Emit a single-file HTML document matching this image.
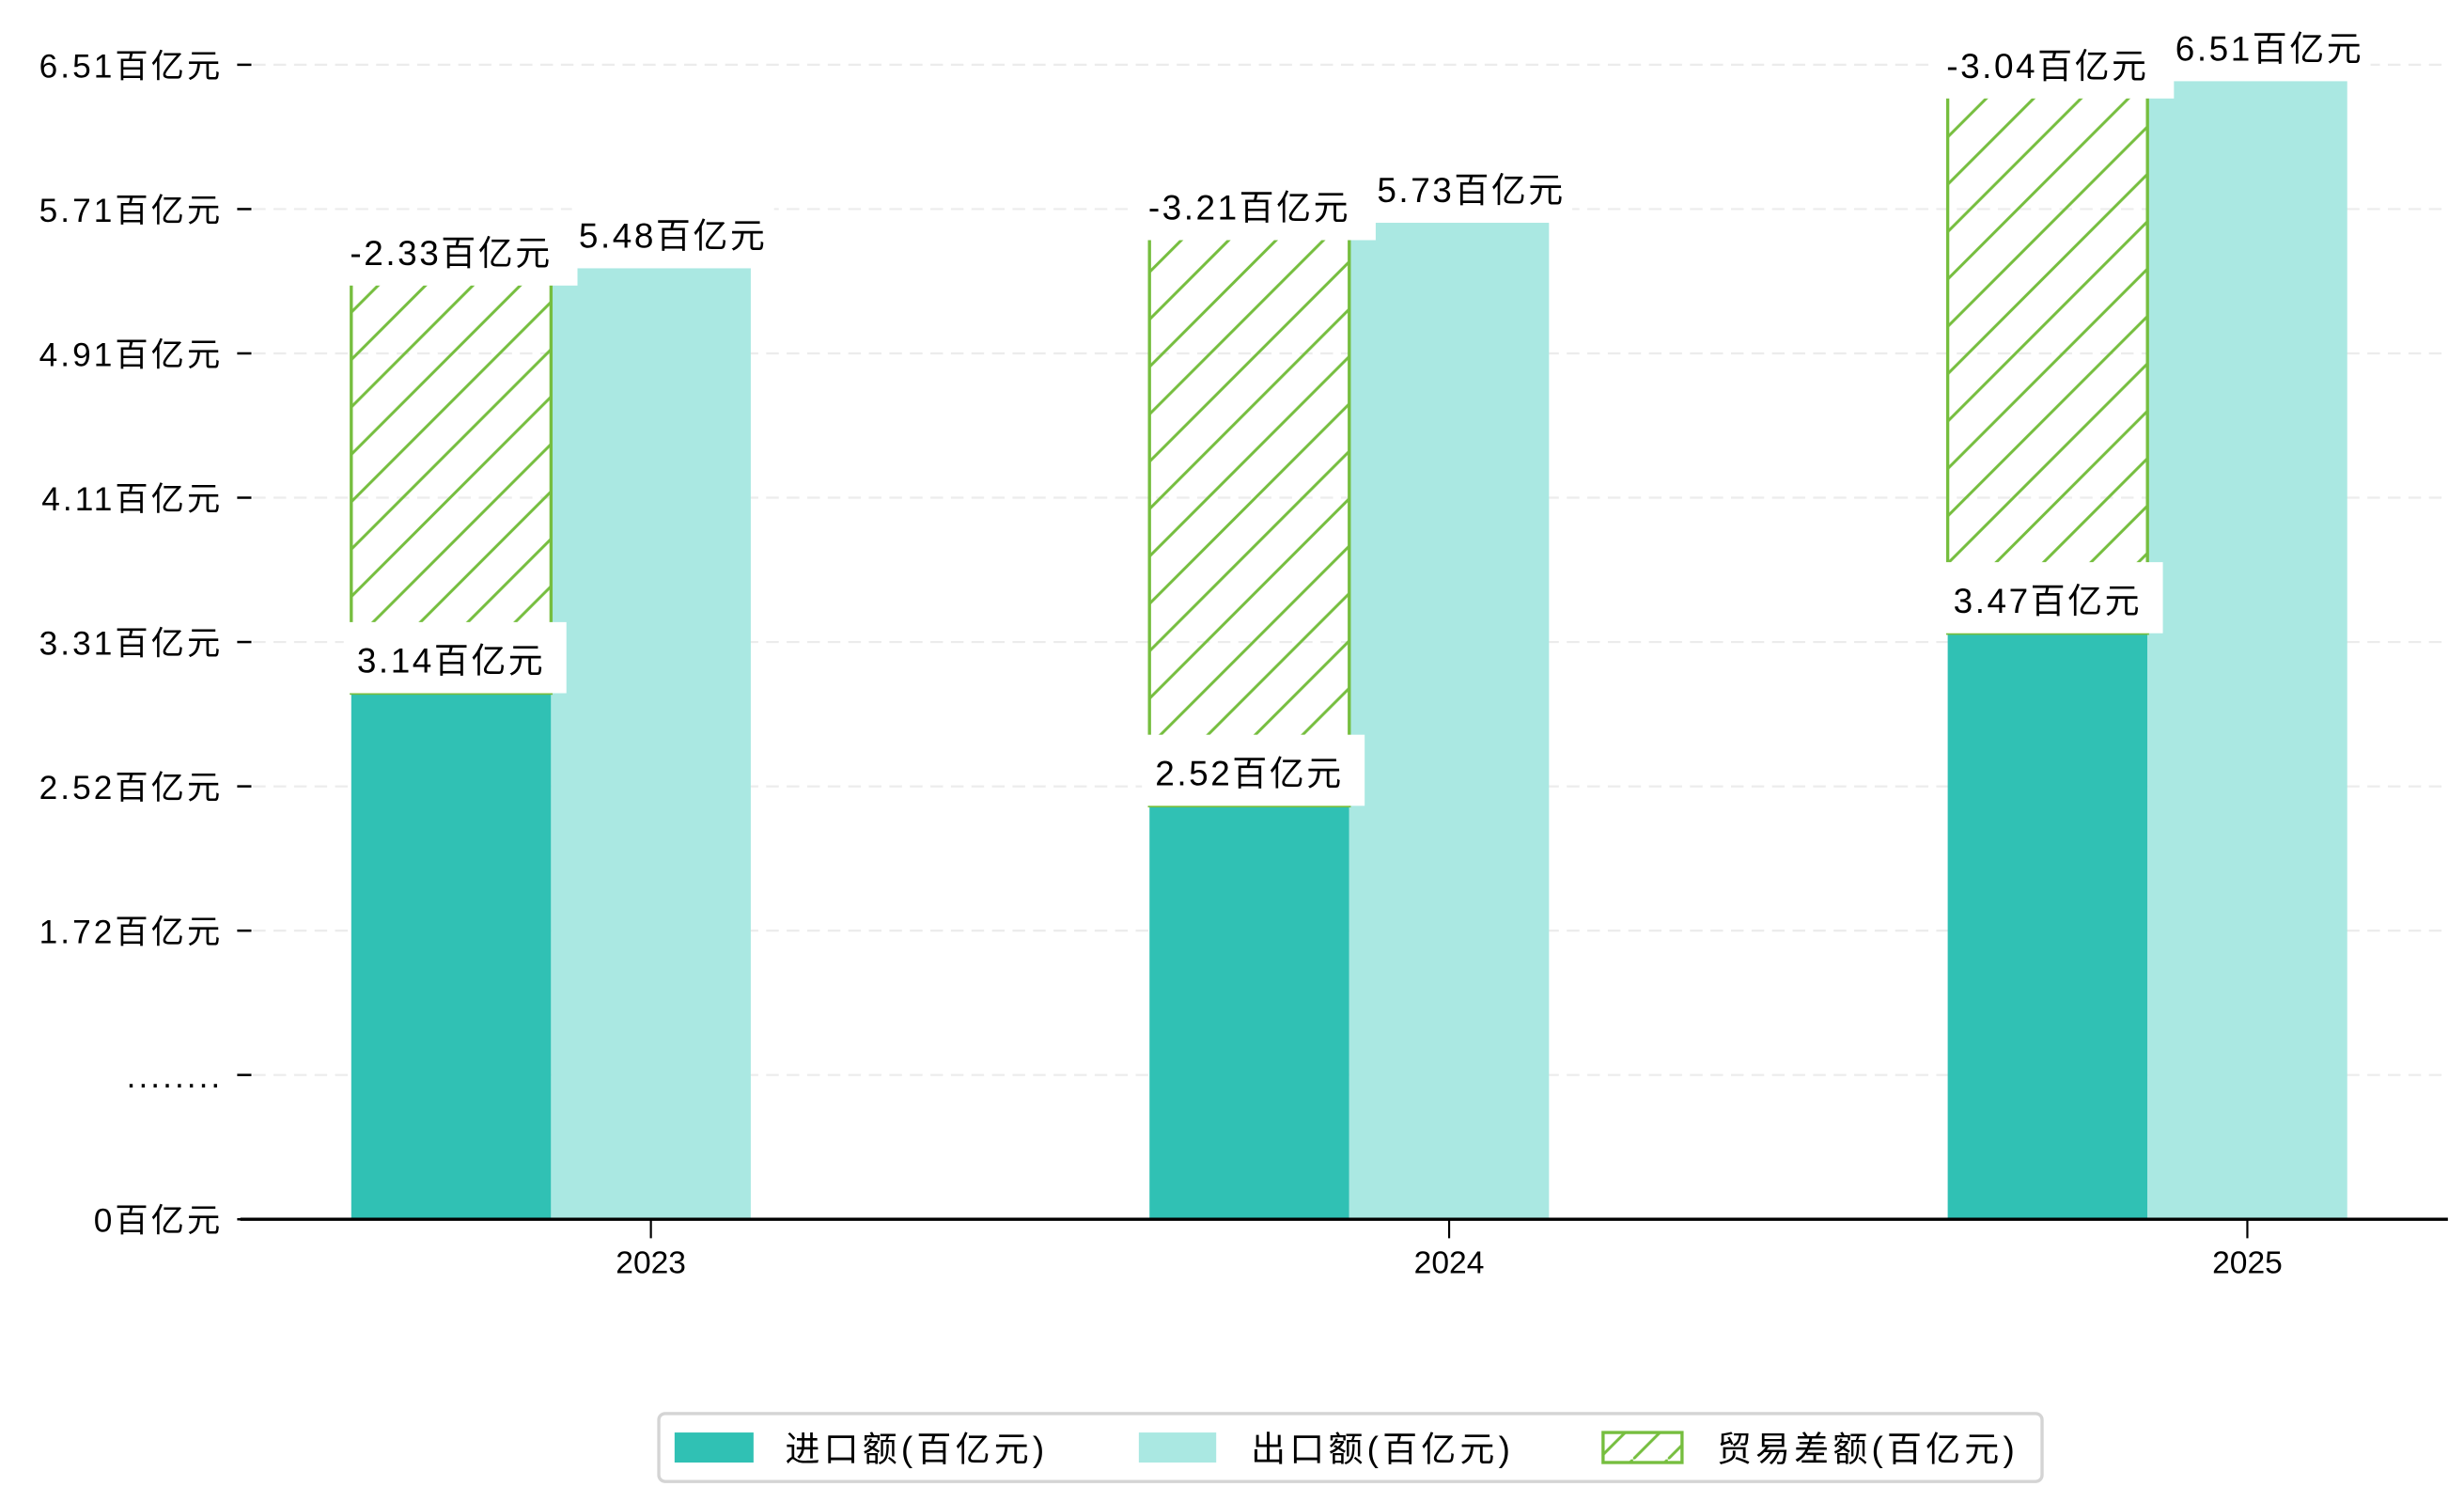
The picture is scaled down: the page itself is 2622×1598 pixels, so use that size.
<!DOCTYPE html>
<html><head><meta charset="utf-8">
<style>
html,body{margin:0;padding:0;background:#fff;}
svg{display:block;}
text{font-family:"Liberation Sans","Noto Sans CJK SC",sans-serif;}
</style></head>
<body>
<svg id="chart" width="2622" height="1598" viewBox="0 0 1560 951" xmlns="http://www.w3.org/2000/svg">
<defs>
<pattern id="hatch" patternUnits="userSpaceOnUse" width="30" height="30">
<path d="M-5,5 L5,-5 M0,30 L30,0 M25,35 L35,25" stroke="#76BE3F" stroke-width="1.8"/>
</pattern>
<pattern id="hatchLegend" patternUnits="userSpaceOnUse" width="22" height="22">
<path d="M0,22 L22,0" stroke="#76BE3F" stroke-width="1.8"/>
</pattern>
</defs>
<g id="grid"></g>
<g id="bars"></g>
<g id="labels"></g>
<g id="axes"></g>
<g id="legend">
<rect x="417" y="895" width="876" height="43" rx="4" fill="#fff" stroke="#d4d4d4" stroke-width="2"/>
<rect x="427" y="907" width="50" height="19" fill="#30C1B4"/>
<text x="497" y="925" font-size="22" letter-spacing="2.5">进口额(百亿元)</text>
<rect x="721" y="907" width="49" height="19" fill="#AAE8E2"/>
<text x="792" y="925" font-size="22" letter-spacing="2.5">出口额(百亿元)</text>
<rect x="1015" y="907" width="50" height="19" fill="url(#hatchLegend)" stroke="#76BE3F" stroke-width="2"/>
<text x="1087" y="925" font-size="22" letter-spacing="2.5">贸易差额(百亿元)</text>
</g>
</svg>
<script>
const categories = ["2023", "2024", "2025"];
const importValues = [3.14, 2.52, 3.47];
const exportValues = [5.48, 5.73, 6.51];
const balanceValues = [-2.33, -3.21, -3.04];
const importLabels = ["3.14百亿元", "2.52百亿元", "3.47百亿元"];
const exportLabels = ["5.48百亿元", "5.73百亿元", "6.51百亿元"];
const balanceLabels = ["-2.33百亿元", "-3.21百亿元", "-3.04百亿元"];
const yTickLabels = ["0百亿元", "........", "1.72百亿元", "2.52百亿元", "3.31百亿元", "4.11百亿元", "4.91百亿元", "5.71百亿元", "6.51百亿元"];

const NS = "http://www.w3.org/2000/svg";
const plotLeft = 152, plotRight = 1550, baseY = 772;
const Y0 = 800, K = 115;
function yScale(v){ return Y0 - K * v; }
const yMin = (Y0 - baseY) / K, yTopTick = (Y0 - 41) / K;
function xCenter(i){ return 412 + i * 505.5; }
const barW = 126.5;

function mk(tag, attrs, parent){
  const e = document.createElementNS(NS, tag);
  for (const k in attrs) e.setAttribute(k, attrs[k]);
  parent.appendChild(e);
  return e;
}
const grid = document.getElementById('grid');
const bars = document.getElementById('bars');
const labels = document.getElementById('labels');
const axes = document.getElementById('axes');

yTickLabels.forEach((lab, i) => {
  const v = yMin + i * (yTopTick - yMin) / (yTickLabels.length - 1);
  const y = yScale(v);
  if (i > 0) {
    const g = mk('line', {x1: 160, x2: plotRight, y1: y, y2: y, stroke: '#ececec', 'stroke-width': 1.3, 'stroke-dasharray': '8,5'}, grid);
    
    
  }
  const t = mk('line', {x1: 150, x2: 159, y1: y, y2: y, stroke: '#000', 'stroke-width': 1.5}, axes);
  
  
  const tx = mk('text', {x: 141, y: y + 8, 'font-size': 21, 'text-anchor': 'end', 'letter-spacing': 1.8}, axes);
  tx.textContent = lab;
  
  
});

function labelBox(x0, x1, top, bottom, tx, baseline, text, name){
  const r = mk('rect', {x: x0, y: top, width: x1 - x0, height: bottom - top, fill: '#fff'}, labels);
  
  
  const t = mk('text', {x: tx, y: baseline, 'font-size': 22, 'text-anchor': 'middle', 'letter-spacing': 1.5}, labels);
  t.textContent = text;
  
  
}

categories.forEach((c, i) => {
  const cx = xCenter(i);
  const left = cx - 1.5 * barW;
  const mid = cx - 0.5 * barW;
  const iTop = yScale(importValues[i]);
  const eTop = yScale(exportValues[i]);
  const bTop = yScale(importValues[i] - balanceValues[i]);

  const ib = mk('rect', {x: left, y: iTop, width: barW, height: baseY - iTop, fill: '#30C1B4'}, bars);
  
  
  const eb = mk('rect', {x: mid, y: eTop, width: barW, height: baseY - eTop, fill: '#AAE8E2'}, bars);
  
  
  const hb = mk('rect', {x: left, y: bTop, width: barW, height: iTop - bTop, fill: 'url(#hatch)', stroke: '#76BE3F', 'stroke-width': 2}, bars);
  
  

  const lc = left + barW / 2;
  labelBox(cx - 50, cx + 78, eTop - 40, eTop, cx + 14, eTop - 13, exportLabels[i], 'export-label-' + c);
  labelBox(lc - 74, lc + 80, eTop - 30, eTop + 11, lc, eTop - 2, balanceLabels[i], 'balance-label-' + c);
  labelBox(lc - 68, lc + 73, iTop - 45, iTop, lc, iTop - 13, importLabels[i], 'import-label-' + c);

  const tk = mk('line', {x1: cx, x2: cx, y1: baseY, y2: baseY + 12, stroke: '#000', 'stroke-width': 1.3}, axes);
  
  
  const xt = mk('text', {x: cx, y: 806, 'font-size': 20, 'text-anchor': 'middle'}, axes);
  xt.textContent = c;
  
  
});

const ax = mk('line', {x1: plotLeft, x2: plotRight, y1: baseY, y2: baseY, stroke: '#000', 'stroke-width': 2}, axes);


</script>
</body></html>
